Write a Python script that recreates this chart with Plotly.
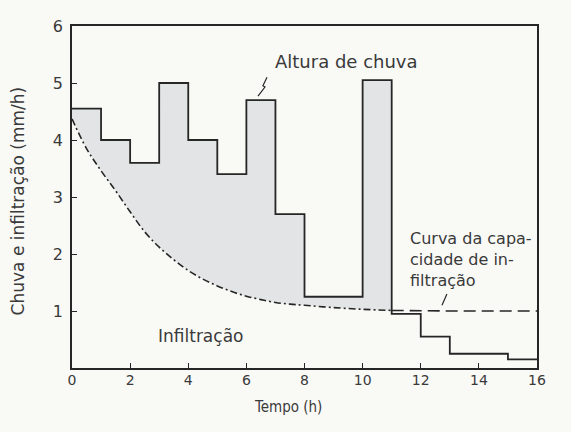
import plotly.graph_objects as go

# ---- data ----
rain_start = [0, 1, 2, 3, 4, 5, 6, 7, 8, 10, 11, 12, 13, 15]
rain_end = [1, 2, 3, 4, 5, 6, 7, 8, 10, 11, 12, 13, 15, 16]
rain_mmh = [4.55, 4.0, 3.6, 5.0, 4.0, 3.4, 4.7, 2.7, 1.25, 5.05, 0.95, 0.55, 0.25, 0.15]

curve_t = [0, 0.5, 1, 1.5, 2, 2.5, 3, 3.5, 4, 4.5, 5, 5.5, 6, 6.5, 7, 7.5, 8, 9, 10, 11,
           12, 13, 14, 15, 16]
curve_f = [4.37, 3.85, 3.46, 3.11, 2.74, 2.39, 2.12, 1.90, 1.71, 1.56, 1.44, 1.34, 1.26,
           1.20, 1.15, 1.12, 1.10, 1.06, 1.03, 1.01, 1.0, 1.0, 1.0, 1.0, 1.0]

excess_end = 11  # rain exceeds infiltration capacity until t = 11 h

x_ticks = [0, 2, 4, 6, 8, 10, 12, 14, 16]
y_ticks = [1, 2, 3, 4, 5, 6]

BG = "#f9f9f6"
INK = "#262626"
TXT = "#3a3a3a"
FILL = "#e3e4e6"

# ---- derived geometry ----
step_x, step_y = [], []
for s, e, v in zip(rain_start, rain_end, rain_mmh):
    step_x += [s, e]
    step_y += [v, v]

poly_x, poly_y = [], []
for s, e, v in zip(rain_start, rain_end, rain_mmh):
    if s < excess_end:
        poly_x += [s, e]
        poly_y += [v, v]
cx = [t for t in curve_t if t <= excess_end]
cy = [f for t, f in zip(curve_t, curve_f) if t <= excess_end]
poly_x += cx[::-1]
poly_y += cy[::-1]

split = excess_end
dd_x = [t for t in curve_t if t <= split]
dd_y = [f for t, f in zip(curve_t, curve_f) if t <= split]
da_x = [t for t in curve_t if t >= split]
da_y = [f for t, f in zip(curve_t, curve_f) if t >= split]

fig = go.Figure()
fig.add_trace(go.Scatter(x=poly_x, y=poly_y, fill="toself", fillcolor=FILL,
                         mode="none", hoverinfo="skip", showlegend=False))
fig.add_trace(go.Scatter(x=step_x, y=step_y, mode="lines",
                         line=dict(color=INK, width=1.8), showlegend=False))
fig.add_trace(go.Scatter(x=dd_x, y=dd_y, mode="lines", line_shape="spline",
                         line=dict(color=INK, width=1.6, dash="7px,3px,2px,3px"),
                         showlegend=False))
fig.add_trace(go.Scatter(x=da_x, y=da_y, mode="lines",
                         line=dict(color=INK, width=1.6, dash="12px,6px"),
                         showlegend=False))

font_main = "DejaVu Sans, Arial, sans-serif"

# page body has an 8px margin; figure sized so it fits the 571x432 window
OFF = 8
FW, FH = 571 - 2 * OFF, 432 - 2 * OFF
# plot area in window pixels: x 72..537, y 17..368
PL, PW, PT, PH = 72, 465, 17, 351
PB = PT + PH

annotations = [
    dict(x=6.92, y=5.38, xref="x", yref="y", text="Altura de chuva", showarrow=False,
         xanchor="left", yanchor="middle", font=dict(size=18, color=TXT, family=font_main)),
    dict(x=11.55, y=1.9, xref="x", yref="y",
         text="Curva da capa-<br>cidade de in-<br>filtração", showarrow=False,
         xanchor="left", yanchor="middle", align="left",
         font=dict(size=16, color=TXT, family=font_main)),
    dict(x=2.9, y=0.57, xref="x", yref="y", text="Infiltração", showarrow=False,
         xanchor="left", yanchor="middle", font=dict(size=17, color=TXT, family=font_main)),
    dict(x=(18 - PL) / PW, y=(PB - 197) / PH, xref="paper", yref="paper",
         text="Chuva e infiltração (mm/h)", textangle=-90, showarrow=False,
         xanchor="center", yanchor="middle", font=dict(size=17, color=TXT, family=font_main)),
    dict(x=(288 - PL) / PW, y=(PB - 408) / PH, xref="paper", yref="paper", text="Tempo (h)",
         showarrow=False, xanchor="center", yanchor="middle",
         font=dict(size=15, color=TXT, family="DejaVu Sans Condensed, Liberation Sans Narrow, DejaVu Sans")),
]

shapes = [
    dict(type="path", xref="x", yref="y",
         path="M 6.71 5.10 L 6.57 4.95 L 6.64 4.93 L 6.40 4.77",
         line=dict(color=INK, width=1.2)),
    dict(type="path", xref="x", yref="y",
         path="M 12.90 1.30 L 12.73 1.10",
         line=dict(color=INK, width=1.2)),
]

fig.update_layout(
    width=FW, height=FH,
    margin=dict(l=PL - OFF, r=FW - (PL - OFF) - PW, t=PT - OFF, b=FH - (PT - OFF) - PH),
    paper_bgcolor=BG, plot_bgcolor=BG,
    annotations=annotations, shapes=shapes,
    showlegend=False,
    xaxis=dict(range=[0, 16], tickvals=x_ticks, ticktext=[str(v) for v in x_ticks],
               ticks="inside", ticklen=5, tickwidth=1.2, tickcolor=INK,
               showline=True, linecolor=INK, linewidth=1.6, mirror=True,
               showgrid=False, zeroline=False, ticklabelstandoff=-2,
               tickfont=dict(size=14, color=TXT, family=font_main)),
    yaxis=dict(range=[0, 6], tickvals=y_ticks, ticktext=[str(v) for v in y_ticks],
               ticks="inside", ticklen=5, tickwidth=1.2, tickcolor=INK,
               showline=True, linecolor=INK, linewidth=1.6, mirror=True,
               showgrid=False, zeroline=False, ticklabelstandoff=4,
               tickfont=dict(size=16, color=TXT, family=font_main)),
)

fig.write_html("out.html", post_script="document.body.style.background='#f9f9f6';")
